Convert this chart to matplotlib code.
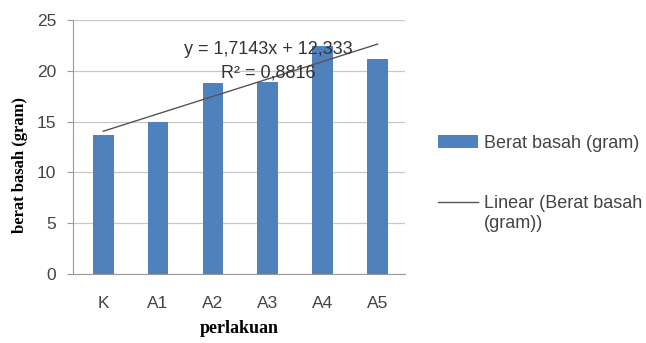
import numpy as np
import matplotlib
matplotlib.use("Agg")
import matplotlib.pyplot as plt

# Treatment groups and fresh weight per group
perlakuan = ["K", "A1", "A2", "A3", "A4", "A5"]
berat_basah = [13.7, 15.0, 18.8, 18.9, 22.4, 21.2]

# Linear trendline coefficients (as reported by the spreadsheet)
slope = 1.7143
intercept = 12.333
r_squared = 0.8816

x = np.arange(1, len(perlakuan) + 1)

fig = plt.figure(figsize=(6.46, 3.43), dpi=100)
ax = fig.add_axes([0.113, 0.201, 0.514, 0.741])

bars = ax.bar(x, berat_basah, width=0.38, color="#4F81BD", zorder=3,
              label="Berat basah (gram)")
trend, = ax.plot(x, slope * x + intercept, color="#555555", linewidth=1, zorder=4,
                 label="Linear (Berat basah\n(gram))")

# Trendline equation
ax.text(4, 22.1, "y = 1,7143x + 12,333", ha="center", va="center",
        fontsize=13, color="#333333", family="Liberation Sans", zorder=5)
ax.text(4, 19.8, f"R² = {r_squared:.4f}".replace(".", ","), ha="center",
        va="center", fontsize=13, color="#333333", family="Liberation Sans",
        zorder=5)

ax.set_xlim(0.45, 6.5)
ax.set_ylim(0, 25)
ax.set_yticks(range(0, 26, 5))
ax.set_xticks(x)
ax.set_xticklabels(perlakuan)
ax.grid(axis="y", color="#c8c8c8", linewidth=0.9, zorder=0)

for s in ["top", "right"]:
    ax.spines[s].set_visible(False)
for s in ["left", "bottom"]:
    ax.spines[s].set_color("#9a9a9a")
ax.tick_params(axis="both", colors="#9a9a9a", labelcolor="#444444",
               labelsize=12.5, length=4)
ax.tick_params(axis="y", pad=8)
ax.tick_params(axis="x", length=0, pad=16)
for lbl in ax.get_xticklabels() + ax.get_yticklabels():
    lbl.set_family("Liberation Sans")

ax.set_xlabel("perlakuan", family="Liberation Serif", fontweight="bold",
              fontsize=13, labelpad=6)
ax.set_ylabel("berat basah (gram)", family="Liberation Serif", fontweight="bold",
              fontsize=12)
ax.yaxis.set_label_coords(-0.135, 0.43)

leg = fig.legend([bars, trend], [bars.get_label(), trend.get_label()],
                 loc="upper left", bbox_to_anchor=(0.678, 0.606), frameon=False,
                 handlelength=2.2, handletextpad=0.35, labelspacing=2.4,
                 borderpad=0, borderaxespad=0,
                 prop={"family": "Liberation Sans", "size": 13},
                 labelcolor="#444444")
# keep the legend line level with the first line of its wrapped label
for item in leg._legend_handle_box.get_children()[0].get_children():
    item.align = "top"

fig.savefig("out.png", dpi=100)
